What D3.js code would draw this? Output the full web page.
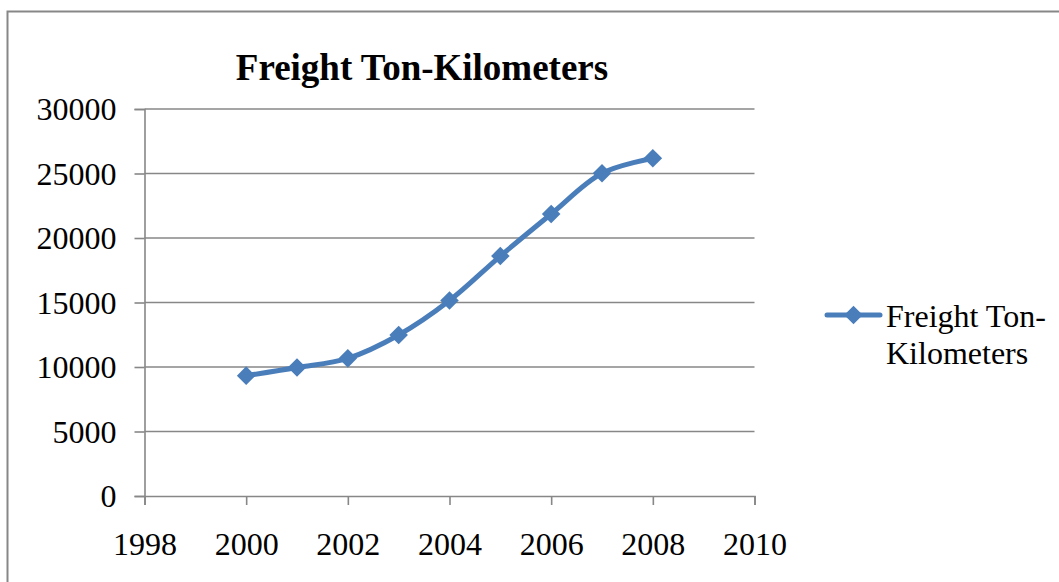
<!DOCTYPE html>
<html>
<head>
<meta charset="utf-8">
<script src="https://cdn.jsdelivr.net/npm/d3@7/dist/d3.min.js"></script>
<style>
  html, body { margin: 0; padding: 0; background: #fff; }
  svg { display: block; }
  text { font-family: "Liberation Serif", "Times New Roman", serif; fill: #000; }
</style>
</head>
<body>
<svg id="chart" width="1059" height="582"></svg>
<script>
const years = [2000, 2001, 2002, 2003, 2004, 2005, 2006, 2007, 2008];
const freightTonKm = [9330, 9960, 10670, 12480, 15150, 18600, 21860, 25020, 26180];
const xTicks = [1998, 2000, 2002, 2004, 2006, 2008, 2010];
const yTicks = [0, 5000, 10000, 15000, 20000, 25000, 30000];
const seriesName = "Freight Ton-Kilometers";
const legendLines = ["Freight Ton-", "Kilometers"];

const svg = d3.select("#chart");
const gray = "#878787";
const blue = "#4a7ebb";

// outer chart border (left and top only visible)
svg.append("path")
  .attr("d", "M7.5,582 L7.5,11.5 L1059,11.5")
  .attr("fill", "none").attr("stroke", gray).attr("stroke-width", 2);

const x = d3.scaleLinear().domain([1998, 2010]).range([144.5, 754.5]);
const y = d3.scaleLinear().domain([0, 30000]).range([496, 109]);

// gridlines
svg.append("g").selectAll("line").data(yTicks.filter(d => d > 0)).join("line")
  .attr("x1", x(1998)).attr("x2", x(2010))
  .attr("y1", d => y(d)).attr("y2", d => y(d))
  .attr("stroke", gray).attr("stroke-width", 1.6);

// y axis
const yAxis = svg.append("g").attr("transform", `translate(${x(1998)},0)`)
  .call(d3.axisLeft(y).tickValues(yTicks).tickSize(10).tickPadding(18).tickFormat(d3.format("d")));
yAxis.select(".domain").attr("stroke", gray).attr("stroke-width", 1.6);
yAxis.selectAll(".tick line").attr("stroke", gray).attr("stroke-width", 1.6);
yAxis.selectAll(".tick text").attr("font-size", 32).attr("font-family", "Liberation Serif").attr("dy", "0.34em").attr("fill", "#000");

// x axis
const xAxis = svg.append("g").attr("transform", `translate(0,${y(0)})`)
  .call(d3.axisBottom(x).tickValues(xTicks).tickSize(9).tickPadding(27).tickFormat(d3.format("d")));
xAxis.select(".domain").attr("stroke", gray).attr("stroke-width", 1.6);
xAxis.selectAll(".tick line").attr("stroke", gray).attr("stroke-width", 1.6);
xAxis.selectAll(".tick text").attr("font-size", 32).attr("font-family", "Liberation Serif").attr("fill", "#000");

// line
const pts = years.map((yr, i) => [yr, freightTonKm[i]]);
const line = d3.line().x(d => x(d[0])).y(d => y(d[1])).curve(d3.curveCatmullRom.alpha(0.5));
svg.append("path").datum(pts)
  .attr("d", line).attr("fill", "none").attr("stroke", blue)
  .attr("stroke-width", 5).attr("stroke-linejoin", "round").attr("stroke-linecap", "round");

const diamond = d3.symbol().type(d3.symbolDiamond2).size(220);
svg.append("g").selectAll("path").data(pts).join("path")
  .attr("d", diamond)
  .attr("transform", d => `translate(${x(d[0])},${y(d[1])})`)
  .attr("fill", blue);

// title
svg.append("text").attr("x", 422).attr("y", 80)
  .attr("text-anchor", "middle").attr("font-size", 37).attr("font-weight", "bold")
  .text(seriesName);

// legend
const lg = svg.append("g");
lg.append("line").attr("x1", 827).attr("x2", 880).attr("y1", 315).attr("y2", 315)
  .attr("stroke", blue).attr("stroke-width", 5).attr("stroke-linecap", "round");
lg.append("path").attr("d", diamond).attr("transform", "translate(853.5,315)").attr("fill", blue);
lg.selectAll("text").data(legendLines).join("text")
  .attr("x", 886).attr("y", (d, i) => 327 + i * 37)
  .attr("font-size", 32).text(d => d);
</script>
</body>
</html>
